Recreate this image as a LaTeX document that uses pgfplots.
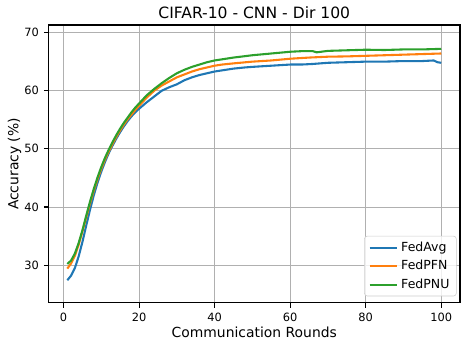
\documentclass[border=0pt]{standalone}
\usepackage{pgfplots}
\pgfplotsset{compat=1.18}
\usepackage{fontspec}
\setmainfont{DejaVu Sans}

\definecolor{tabblue}{HTML}{1F77B4}
\definecolor{taborange}{HTML}{FF7F0E}
\definecolor{tabgreen}{HTML}{2CA02C}

\begin{document}
\begin{tikzpicture}
\begin{axis}[
    scale only axis,
    width=296pt, height=200pt,
    xmin=-3.95, xmax=104.95,
    ymin=23.5, ymax=71.3,
    xtick={0,20,...,100},
    ytick={30,40,...,70},
    grid=major,
    major grid style={draw=black!31, line width=0.7pt},
    axis line style={line width=0.8pt},
    tick align=outside, tick pos=left,
    major tick length=3.5pt,
    every tick/.style={black, line width=0.8pt},
    ticklabel style={font=\fontsize{8.2}{10}\selectfont},
    /pgf/number format/assume math mode=true,
    title={CIFAR-10 - CNN - Dir 100},
    every axis title/.style={at={(axis description cs:0.5,1)}, yshift=4.8pt, anchor=base,
        font=\fontsize{11.2}{13}\selectfont},
    xlabel={Communication Rounds},
    ylabel={Accuracy (\%)},
    every axis x label/.style={at={(axis description cs:0.5,0)}, yshift=-24.9pt, anchor=base,
        font=\fontsize{10}{12}\selectfont},
    every axis y label/.style={at={(axis description cs:0,0.5)}, xshift=-24.5pt, anchor=center,
        rotate=90, font=\fontsize{10}{12}\selectfont},
    legend style={
        at={(0.992,0.024)}, anchor=south east,
        draw=black!20, rounded corners=2pt,
        fill=white, fill opacity=0.8, text opacity=1,
        font=\fontsize{9}{11}\selectfont,
        row sep=1pt,
    },
    legend cell align=left,
    legend image code/.code={\draw[#1] (0pt,0pt) -- (20pt,0pt);},
]

% FedAvg
\addplot[tabblue, line width=1.5pt] coordinates {
    (1,27.4) (2,28.2) (3,29.5) (4,31.5) (5,34.0) (6,36.8) (7,39.5) (8,42.0)
    (9,44.2) (10,46.1) (11,47.8) (12,49.3) (13,50.6) (14,51.8) (15,52.9)
    (16,53.9) (17,54.8) (18,55.6) (19,56.3) (20,56.9) (22,58.0) (24,59.0)
    (26,60.0) (28,60.6) (30,61.1) (32,61.8) (34,62.3) (36,62.7) (38,63.0)
    (40,63.3) (42,63.5) (45,63.8) (48,64.0) (50,64.1) (55,64.3) (60,64.5)
    (63,64.5) (66,64.6) (70,64.8) (75,64.9) (80,65.0) (85,65.0) (90,65.1)
    (95,65.1) (98,65.2) (99,64.9) (100,64.8)
};
\addlegendentry{FedAvg}

% FedPFN
\addplot[taborange, line width=1.5pt] coordinates {
    (1,29.4) (2,30.3) (3,31.6) (4,33.5) (5,35.8) (6,38.2) (7,40.6) (8,42.8)
    (9,44.8) (10,46.6) (11,48.2) (12,49.6) (13,50.9) (14,52.1) (15,53.2)
    (16,54.2) (17,55.1) (18,55.9) (19,56.7) (20,57.4) (22,58.8) (24,60.0)
    (26,60.9) (28,61.6) (30,62.3) (32,62.8) (34,63.3) (36,63.7) (38,64.0)
    (40,64.3) (42,64.5) (45,64.7) (50,65.0) (55,65.2) (60,65.5) (65,65.7)
    (70,65.85) (75,65.9) (80,66.0) (85,66.1) (90,66.2) (95,66.3) (100,66.4)
};
\addlegendentry{FedPFN}

% FedPNU
\addplot[tabgreen, line width=1.5pt] coordinates {
    (1,30.2) (2,30.8) (3,32.0) (4,33.8) (5,36.0) (6,38.5) (7,40.9) (8,43.1)
    (9,45.1) (10,46.9) (11,48.5) (12,49.9) (13,51.2) (14,52.4) (15,53.5)
    (16,54.5) (17,55.4) (18,56.3) (19,57.1) (20,57.8) (22,59.2) (24,60.3)
    (26,61.3) (28,62.2) (30,63.0) (32,63.6) (34,64.1) (36,64.5) (38,64.9)
    (40,65.2) (42,65.4) (45,65.7) (50,66.1) (55,66.4) (60,66.7) (63,66.8)
    (66,66.8) (67,66.6) (70,66.85) (75,66.95) (80,67.05) (85,67.0) (90,67.1)
    (95,67.1) (100,67.2)
};
\addlegendentry{FedPNU}

\end{axis}
\path (current axis.south west) ++(-35pt,-33pt)
      (current axis.north east) ++(5.8pt,18pt);
\end{tikzpicture}
\end{document}
